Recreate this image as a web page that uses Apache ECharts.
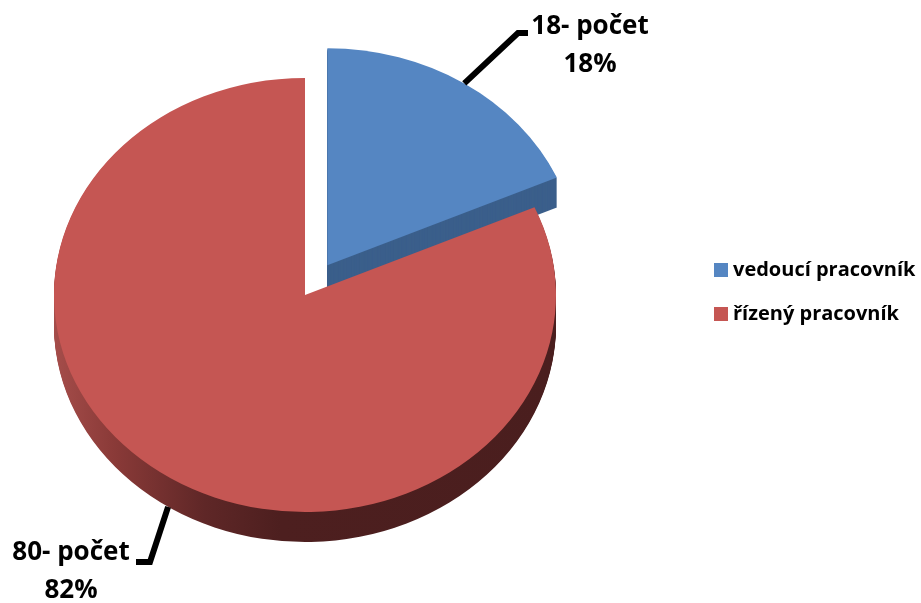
<!DOCTYPE html>
<html><head><meta charset="utf-8">
<script src="https://cdn.jsdelivr.net/npm/echarts@6/dist/echarts.min.js"></script>
<style>html,body{margin:0;padding:0;background:#fff}#c{width:921px;height:603px}</style>
</head><body><div id="c"></div>
<script>
// ---- data ----
const categories = ['vedoucí pracovník', 'řízený pracovník'];
const counts = [18, 80];
const labelSuffix = '- počet';

// ---- styles / layout ----
const topColors = ['#5586c2', '#c55653'];
const CX = 305, CY = 295, RX = 251, RY = 217, DEPTH = 30;
const KY = RY / RX;
const EXPLODE = [41, 0];
const labelPos = [[590, 46], [71, 572]];
const elbows = [[[518, 33], [528, 33]], [[150, 562], [136, 562]]];
const leaderFromBottom = [false, true];
const sideFill = [
  '#3b5f8b',
  new echarts.graphic.LinearGradient(-RX, 0, RX, 0, [
    {offset: 0, color: '#a54d4a'},
    {offset: 0.12, color: '#8a3a38'},
    {offset: 0.3, color: '#5f2727'},
    {offset: 0.45, color: '#4d1f1f'},
    {offset: 1, color: '#4a1e1e'}
  ], true)
];

const total = counts.reduce((a, b) => a + b, 0);

function renderSlice(params, api) {
  const i = params.seriesIndex;
  const value = api.value(0);
  let before = 0;
  for (let j = 0; j < i; j++) before += counts[j];
  const a0 = -Math.PI / 2 + 2 * Math.PI * before / total;
  const a1 = a0 + 2 * Math.PI * value / total;
  const mid = (a0 + a1) / 2;
  const ex = EXPLODE[i];
  const ox = CX + Math.cos(mid) * ex;
  const oy = CY + Math.sin(mid) * ex * KY;
  const shape = {cx: 0, cy: 0, r: RX, r0: 0, startAngle: a0, endAngle: a1, clockwise: true};
  const children = [];
  for (let k = DEPTH; k >= 1; k--) {
    children.push({type: 'sector', x: ox, y: oy + k, scaleY: KY, shape: shape,
      style: {fill: sideFill[i]}, silent: true});
  }
  children.push({type: 'sector', x: ox, y: oy, scaleY: KY, shape: shape,
    style: {fill: topColors[i]}});
  const sx = ox + Math.cos(mid) * RX;
  const sy = oy + Math.sin(mid) * RY + (leaderFromBottom[i] ? DEPTH : 0);
  children.push({type: 'polyline', shape: {points: [[sx, sy]].concat(elbows[i])},
    style: {stroke: '#000', lineWidth: 6, fill: null, lineJoin: 'miter', lineCap: 'butt'}});
  const pct = Math.round(value / total * 100);
  children.push({type: 'text', x: labelPos[i][0], y: labelPos[i][1],
    style: {text: value + labelSuffix + '\n' + pct + '%', fill: '#000',
      fontFamily: 'Open Sans', fontWeight: 'bold', fontSize: 26, lineHeight: 38,
      align: 'center', textAlign: 'center', verticalAlign: 'middle', textVerticalAlign: 'middle'}});
  return {type: 'group', children: children};
}

const chart = echarts.init(document.getElementById('c'), null, {renderer: 'canvas'});
chart.setOption({
  animation: false,
  color: topColors,
  legend: {
    orient: 'vertical', left: 709, top: 255,
    itemWidth: 14, itemHeight: 14, itemGap: 24, icon: 'rect',
    textStyle: {fontFamily: 'Open Sans', fontWeight: 'bold', fontSize: 20, color: '#000', lineHeight: 20},
    data: categories
  },
  series: categories.map((name, i) => ({
    type: 'custom', name: name, coordinateSystem: 'none',
    renderItem: renderSlice,
    itemStyle: {color: topColors[i]},
    data: [[counts[i]]]
  }))
});
</script></body></html>
